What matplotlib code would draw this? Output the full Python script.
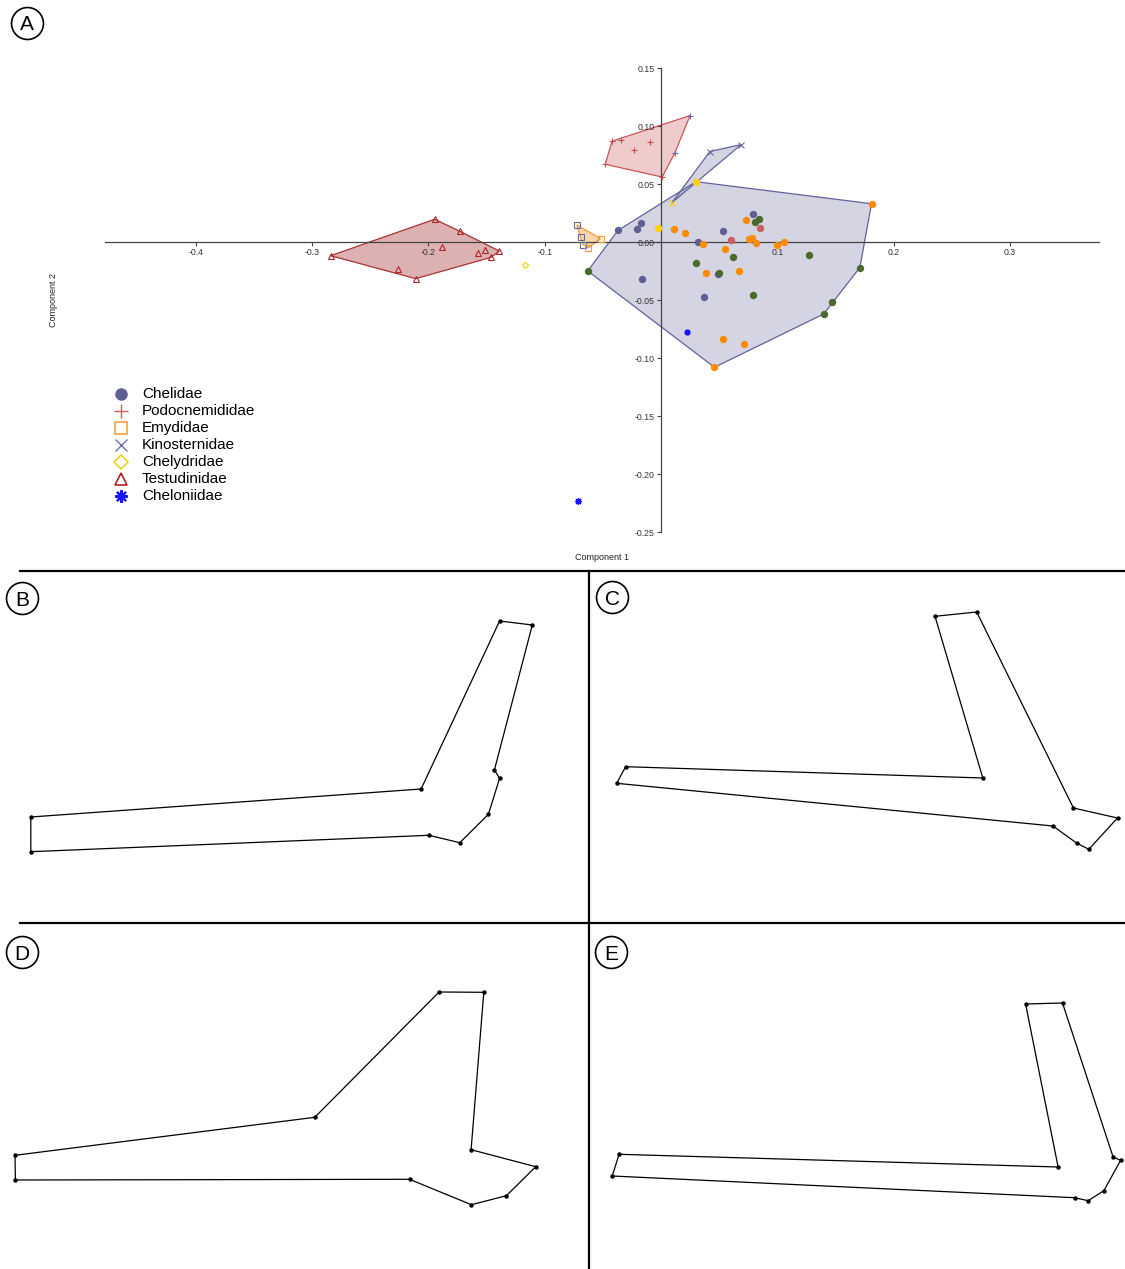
import numpy as np
import matplotlib
matplotlib.use('Agg')
import matplotlib.pyplot as plt
from matplotlib.colors import to_rgba

W, H = 1125, 1269
plt.rcParams['font.family'] = ['Liberation Sans', 'DejaVu Sans']
plt.rcParams['axes.unicode_minus'] = False

# ---- PCA scores (Component 1, Component 2) ----
# circles (Chelidae hull), split by the colour PAST gave them
chel_navy_x = [-0.037, -0.021, -0.017, -0.016, 0.032, 0.053, 0.079, 0.049, 0.037]
chel_navy_y = [0.010, 0.011, 0.016, -0.032, 0.000, 0.0095, 0.024, -0.028, -0.047]
chel_green_x = [-0.063, 0.030, 0.050, 0.062, 0.079, 0.081, 0.084, 0.127, 0.171, 0.147, 0.140]
chel_green_y = [-0.025, -0.018, -0.027, -0.013, -0.046, 0.017, 0.020, -0.011, -0.022, -0.052, -0.062]
chel_orange_x = [0.011, 0.021, 0.036, 0.055, 0.039, 0.067, 0.073, 0.076, 0.078, 0.082, 0.100,
                 0.106, 0.181, 0.053, 0.071, 0.046]
chel_orange_y = [0.011, 0.008, -0.002, -0.006, -0.027, -0.025, 0.019, 0.003, 0.0035, -0.001, -0.003,
                 0.000, 0.033, -0.084, -0.088, -0.108]
chel_red_x = [0.060, 0.085]
chel_red_y = [0.002, 0.012]
chel_yellow_x = [-0.003, 0.030]
chel_yellow_y = [0.012, 0.052]
chel_blue_x = [0.022]
chel_blue_y = [-0.078]

podo_x = [-0.048, -0.042, -0.034, -0.023, -0.0097, 0.001, 0.012, 0.025]
podo_y = [0.067, 0.087, 0.088, 0.079, 0.086, 0.056, 0.077, 0.109]
emyd_x = [-0.0725, -0.0685, -0.067, -0.0625, -0.052]
emyd_y = [0.0147, 0.0046, -0.0023, -0.005, 0.003]
kino_x = [0.0095, 0.042, 0.069]
kino_y = [0.034, 0.078, 0.084]
chely_x = [-0.117]
chely_y = [-0.0195]
test_x = [-0.284, -0.1946, -0.173, -0.1886, -0.157, -0.1516, -0.139, -0.146, -0.226, -0.211]
test_y = [-0.0118, 0.0196, 0.0092, -0.0043, -0.0098, -0.0072, -0.0078, -0.0132, -0.0236, -0.0316]
cheloni_x = [-0.0714]
cheloni_y = [-0.2233]

xticks = [-0.4, -0.3, -0.2, -0.1, 0.1, 0.2, 0.3]
yticks = [0.15, 0.10, 0.05, 0.00, -0.05, -0.10, -0.15, -0.20, -0.25]

families = ['Chelidae', 'Podocnemididae', 'Emydidae', 'Kinosternidae',
            'Chelydridae', 'Testudinidae', 'Cheloniidae']

# ---- landmark configurations for panels B-E (panel pixel units, y down) ----
shape_b_x = [30.8, 421.1, 499.6, 532.3, 494.4, 499.6, 488.4, 459.8, 429.0, 30.8]
shape_b_y = [246.0, 218.0, 50.0, 54.0, 199.0, 207.3, 243.3, 271.7, 264.3, 280.7]
shape_c_x = [36.6, 393.8, 346.0, 387.7, 484.4, 528.5, 499.8, 487.5, 463.9, 27.7]
shape_c_y = [195.7, 207.0, 45.3, 41.0, 237.0, 247.0, 278.3, 272.0, 255.0, 212.3]
shape_d_x = [15.0, 314.8, 439.1, 483.8, 471.1, 535.7, 506.4, 471.4, 409.5, 15.4]
shape_d_y = [233.3, 195.3, 70.0, 70.3, 227.7, 244.7, 273.7, 282.7, 257.3, 258.0]
shape_e_x = [30.1, 469.1, 436.6, 473.5, 524.1, 531.6, 514.9, 499.1, 485.5, 23.2]
shape_e_y = [232.3, 245.0, 82.0, 81.0, 235.0, 238.3, 268.7, 278.7, 275.7, 254.0]


def px_rect(x0, y0, x1, y1):
    return [x0 / W, 1 - y1 / H, (x1 - x0) / W, (y1 - y0) / H]


def convex_hull(x, y):
    pts = sorted(set(zip(x, y)))

    def cross(o, a, b):
        return (a[0] - o[0]) * (b[1] - o[1]) - (a[1] - o[1]) * (b[0] - o[0])

    lower, upper = [], []
    for p in pts:
        while len(lower) >= 2 and cross(lower[-2], lower[-1], p) <= 0:
            lower.pop()
        lower.append(p)
    for p in reversed(pts):
        while len(upper) >= 2 and cross(upper[-2], upper[-1], p) <= 0:
            upper.pop()
        upper.append(p)
    return np.array(lower[:-1] + upper[:-1])


def draw_hull(ax, x, y, color, alpha):
    h = convex_hull(x, y)
    ax.fill(h[:, 0], h[:, 1], fc=to_rgba(color, alpha), ec=color, lw=0.9, zorder=1)


fig = plt.figure(figsize=(W / 100, H / 100), dpi=100)

# background layer in pixel coordinates: separators and panel letters
bg = fig.add_axes([0, 0, 1, 1])
bg.set_xlim(0, W)
bg.set_ylim(H, 0)
bg.axis('off')
bg.plot([20, W], [571, 571], color='black', lw=1.6)
bg.plot([20, W], [922.5, 922.5], color='black', lw=1.6)
bg.plot([589, 589], [571, H], color='black', lw=1.6)
for letter, cx, cy in [('A', 27, 22.5), ('B', 22, 598), ('C', 612, 597),
                       ('D', 22, 952), ('E', 611, 952)]:
    bg.plot(cx, cy, 'o', ms=23, mfc='none', mec='black', mew=1.2)
    bg.text(cx, cy + 7.6, letter, fontsize=15, ha='center', va='baseline')

# ---- panel A: PCA scatter ----
ox, oy, sx, sy = 661, 242, 1163, 1160
xl, yl = (-0.5, 0.39), (-0.28, 0.17)
ax = fig.add_axes(px_rect(ox + xl[0] * sx, oy - yl[1] * sy, ox + xl[1] * sx, oy - yl[0] * sy))
ax.set_xlim(*xl)
ax.set_ylim(*yl)
ax.patch.set_alpha(0)

slate = '#62629a'
draw_hull(ax, chel_navy_x + chel_green_x + chel_orange_x + chel_red_x + chel_yellow_x + chel_blue_x,
          chel_navy_y + chel_green_y + chel_orange_y + chel_red_y + chel_yellow_y + chel_blue_y,
          slate, 0.27)
draw_hull(ax, kino_x + chel_yellow_x[1:], kino_y + chel_yellow_y[1:], slate, 0.27)
draw_hull(ax, podo_x, podo_y, '#cc5555', 0.3)
draw_hull(ax, emyd_x, emyd_y, '#f39a33', 0.4)
draw_hull(ax, test_x, test_y, '#a83232', 0.38)

dot = dict(ls='none', marker='o', ms=4.3, zorder=3)
ax.plot(chel_navy_x, chel_navy_y, color='#5f5f96', **dot)
ax.plot(chel_green_x, chel_green_y, color='#4b6a2b', **dot)
ax.plot(chel_orange_x, chel_orange_y, color='#ff8c00', **dot)
ax.plot(chel_red_x, chel_red_y, color='#c86262', **dot)
ax.plot(chel_yellow_x, chel_yellow_y, color='#ffd400', **dot)
ax.plot(chel_blue_x, chel_blue_y, color='#1414ff', ls='none', marker='o', ms=3.5, zorder=3)

ax.plot(podo_x[:6], podo_y[:6], ls='none', marker='+', ms=5, mew=0.8, color='#c85050', zorder=3)
ax.plot(podo_x[6:], podo_y[6:], ls='none', marker='+', ms=5, mew=0.8, color='#6a6aa0', zorder=3)
ax.plot(emyd_x[:3], emyd_y[:3], ls='none', marker='s', ms=4.3, mfc='none', mew=0.8,
        color='#6a6a98', zorder=3)
ax.plot(emyd_x[3:], emyd_y[3:], ls='none', marker='s', ms=4.3, mfc='none', mew=0.8,
        color='#f39a33', zorder=3)
ax.plot(kino_x[:1], kino_y[:1], ls='none', marker='x', ms=5, mew=0.8, color='#f2cf00', zorder=3)
ax.plot(kino_x[1:], kino_y[1:], ls='none', marker='x', ms=5, mew=0.8, color='#6a6aa8', zorder=3)
ax.plot(chely_x, chely_y, ls='none', marker='D', ms=3.2, mfc='none', mew=0.8, color='#f2cf00', zorder=3)
ax.plot(test_x, test_y, ls='none', marker='^', ms=4.2, mfc='none', mew=0.8, color='#a82828', zorder=3)
ax.plot(cheloni_x, cheloni_y, ls='none', marker=(8, 2, 0), ms=5, mew=0.9, color='#1414ff', zorder=3)

for s in ['top', 'right']:
    ax.spines[s].set_visible(False)
ax.spines['left'].set_position(('data', 0))
ax.spines['bottom'].set_position(('data', 0))
ax.spines['left'].set_bounds(-0.25, 0.15)
ax.spines['bottom'].set_bounds(-0.478, 0.377)
for s in ['left', 'bottom']:
    ax.spines[s].set_color('#444444')
    ax.spines[s].set_linewidth(0.9)
    ax.spines[s].set_zorder(2)
ax.set_xticks(xticks)
ax.set_xticklabels([f'{v:.1f}' for v in xticks])
ax.set_yticks(yticks)
ax.set_yticklabels([f'{v:.2f}' for v in yticks])
ax.tick_params(length=3, width=0.8, color='#444444', labelsize=6.3, labelcolor='#333333', pad=1.5)

fig.text(602 / W, 1 - 557 / H, 'Component 1', fontsize=6.5, ha='center', va='center', color='#222222')
fig.text(53 / W, 1 - 300 / H, 'Component 2', fontsize=6.5, ha='center', va='center',
         rotation=90, color='#222222')

# legend, drawn in pixel space
leg_style = [
    dict(marker='o', ms=8, color='#5f5f96'),
    dict(marker='+', ms=10, mew=1.0, color='#d25a5a'),
    dict(marker='s', ms=9, mfc='none', mew=1.1, color='#f39a33'),
    dict(marker='x', ms=9, mew=1.0, color='#7070b0'),
    dict(marker='D', ms=7, mfc='none', mew=1.1, color='#f2cf00'),
    dict(marker='^', ms=8.5, mfc='none', mew=1.2, color='#b02020'),
    dict(marker=(8, 2, 0), ms=9, mew=1.6, color='#1414ff'),
]
for i, (name, st) in enumerate(zip(families, leg_style)):
    yy = 394 + 17 * i
    bg.plot(121, yy, ls='none', **st)
    bg.text(142, yy, name, fontsize=11, ha='left', va='center')

# ---- panels B-E: landmark outlines ----
panels = [
    (0, 571, 589, 922, shape_b_x, shape_b_y),
    (589, 571, W, 922, shape_c_x, shape_c_y),
    (0, 922, 589, H, shape_d_x, shape_d_y),
    (589, 922, W, H, shape_e_x, shape_e_y),
]
for x0, y0, x1, y1, sxs, sys_ in panels:
    pa = fig.add_axes(px_rect(x0, y0, x1, y1))
    pa.set_xlim(0, x1 - x0)
    pa.set_ylim(y1 - y0, 0)
    pa.axis('off')
    pa.plot(sxs + sxs[:1], sys_ + sys_[:1], color='black', lw=0.9)
    pa.plot(sxs, sys_, ls='none', marker='o', ms=2.2, color='black')

fig.savefig('out.png', dpi=100)
